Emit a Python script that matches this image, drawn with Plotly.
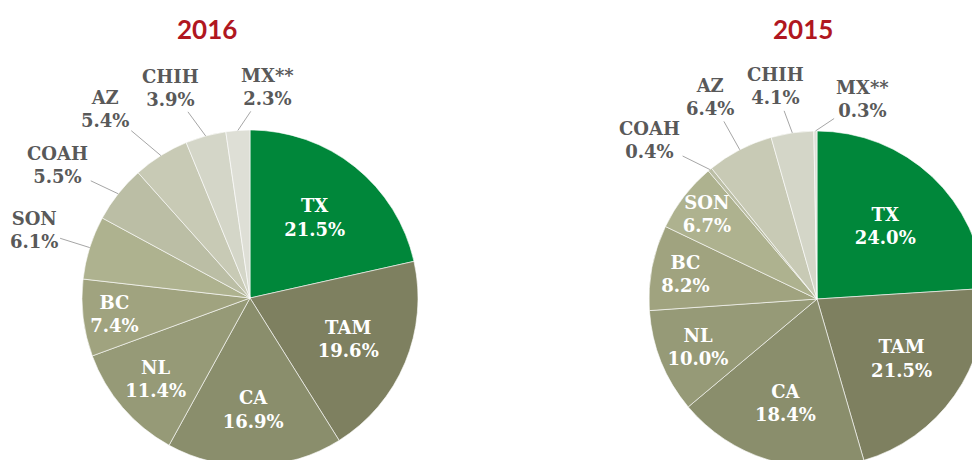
import math
import plotly.graph_objects as go

# --- data ---
states = ['TX', 'TAM', 'CA', 'NL', 'BC', 'SON', 'COAH', 'AZ', 'CHIH', 'MX**']
share_2016 = [21.5, 19.6, 16.9, 11.4, 7.4, 6.1, 5.5, 5.4, 3.9, 2.3]
share_2015 = [24.0, 21.5, 18.4, 10.0, 8.2, 6.7, 0.4, 6.4, 4.1, 0.3]

colors = ['#00873A', '#7E8060', '#8A8E6C', '#969A77', '#A0A37F',
          '#AEB28F', '#BBBEA5', '#C8CAB5', '#D4D6C8', '#DEDFD6']

# which slices get an outside label with a leader line
outside_2016 = ['SON', 'COAH', 'AZ', 'CHIH', 'MX**']
outside_2015 = ['COAH', 'AZ', 'CHIH', 'MX**']
# label placement tweaks: (angle shift in degrees, distance as fraction of radius)
nudge_2016 = {'SON': (0, 1.35), 'COAH': (-3.7, 1.39), 'AZ': (-5.4, 1.42),
              'CHIH': (-5.5, 1.34), 'MX**': (8.8, 1.26)}
nudge_2015 = {'COAH': (-6.8, 1.375), 'AZ': (-0.5, 1.36),
              'CHIH': (-2.7, 1.29), 'MX**': (13.5, 1.22)}

# --- canvas geometry (pixels) ---
W, H = 990, 470
R = 168
pies = [
    dict(year='2016', vals=share_2016, cx=250, cy=298, out=outside_2016, nudge=nudge_2016, tx=207),
    dict(year='2015', vals=share_2015, cx=817, cy=299, out=outside_2015, nudge=nudge_2015, tx=803),
]

LABEL_FONT = 'DejaVu Serif'
GREY = '#595959'

fig = go.Figure()
annotations = []

for p in pies:
    cx, cy = p['cx'], p['cy']
    textpos = ['none' if s in p['out'] else 'inside' for s in states]
    fig.add_trace(go.Pie(
        labels=states,
        values=p['vals'],
        sort=False,
        direction='clockwise',
        rotation=0,
        marker=dict(colors=colors, line=dict(color='rgba(255,255,255,0.6)', width=1)),
        texttemplate='<b>%{label}</b><br><b>%{value:.1f}%</b>',
        textposition=textpos,
        insidetextorientation='horizontal',
        insidetextfont=dict(family=LABEL_FONT, size=18, color='white'),
        domain=dict(x=[(cx - R) / W, (cx + R) / W],
                    y=[(H - (cy + R)) / H, (H - (cy - R)) / H]),
        showlegend=False,
        hoverinfo='label+value',
    ))

    # leader-line labels for the thin slices
    total = sum(p['vals'])
    cum = 0
    for s, v in zip(states, p['vals']):
        mid = (cum + v / 2) / total * 360
        cum += v
        if s not in p['out']:
            continue
        shift, f = p['nudge'][s]
        a = math.radians(mid)
        ex, ey = cx + R * math.sin(a), cy - R * math.cos(a)
        b = math.radians(mid + shift)
        lx, ly = cx + f * R * math.sin(b), cy - f * R * math.cos(b)
        annotations.append(dict(
            x=ex / W, y=(H - ey) / H, xref='paper', yref='paper',
            ax=lx - ex, ay=ly - ey,
            text=f'<b>{s}</b><br><b>{v:.1f}%</b>',
            showarrow=True, arrowhead=0, arrowwidth=1, arrowcolor='#A6A6A6',
            standoff=0, startstandoff=1,
            font=dict(family=LABEL_FONT, size=18, color=GREY),
        ))

    annotations.append(dict(
        x=p['tx'] / W, y=(H - 29) / H, xref='paper', yref='paper',
        xanchor='center', yanchor='middle',
        text=f"<b>{p['year']}</b>", showarrow=False,
        font=dict(family='Lato', size=26, color='#B0171F'),
    ))

fig.update_layout(
    width=W, height=H,
    margin=dict(l=0, r=0, t=0, b=0),
    paper_bgcolor='white',
    plot_bgcolor='white',
    uniformtext=dict(minsize=18, mode='show'),
    annotations=annotations,
)

fig.write_html(
    "out.html",
    config={'displayModeBar': False},
    post_script="document.body.style.margin='0';document.body.style.overflow='hidden';",
)
